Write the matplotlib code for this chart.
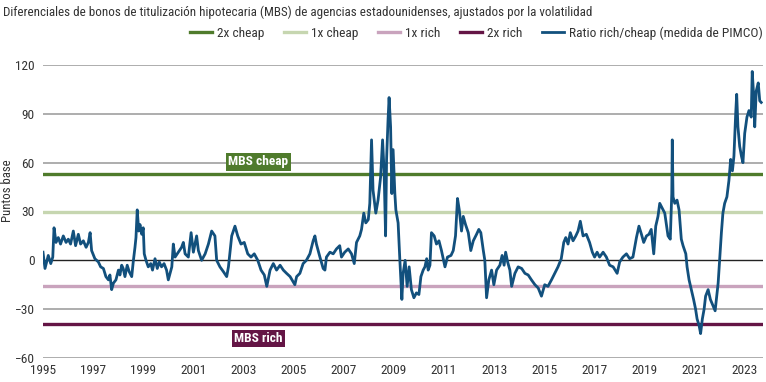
import matplotlib
matplotlib.use('Agg')
import matplotlib.pyplot as plt
from matplotlib import font_manager as fm

# pick a condensed face like the one in the original
installed = {f.name for f in fm.fontManager.ttflist}
for fam in ['Roboto Condensed', 'Barlow Semi Condensed', 'Fira Sans Condensed', 'Asap Condensed']:
    if fam in installed:
        break
else:
    fam = 'DejaVu Sans'
plt.rcParams['font.family'] = [fam, 'DejaVu Sans']

# Ratio rich/cheap (decimal year, basis points)
years = [
    1995.00, 1995.08, 1995.21, 1995.31, 1995.39, 1995.44, 1995.52, 1995.61, 1995.70, 1995.81,
    1995.92, 1996.01, 1996.10, 1996.21, 1996.30, 1996.41, 1996.50, 1996.61, 1996.72, 1996.81,
    1996.88, 1996.94, 1997.07, 1997.21, 1997.30, 1997.41, 1997.51, 1997.61, 1997.67, 1997.74,
    1997.81, 1997.91, 1998.01, 1998.07, 1998.14, 1998.20, 1998.27, 1998.36, 1998.44, 1998.54,
    1998.60, 1998.67, 1998.71, 1998.76, 1998.82, 1998.87, 1998.94, 1999.00, 1999.04, 1999.11,
    1999.20, 1999.30, 1999.37, 1999.47, 1999.56, 1999.64, 1999.73, 1999.83, 1999.93, 2000.00,
    2000.14, 2000.20, 2000.27, 2000.40, 2000.53, 2000.60, 2000.67, 2000.80, 2000.91, 2001.00,
    2001.13, 2001.20, 2001.33, 2001.47, 2001.60, 2001.73, 2001.86, 2001.93, 2002.06, 2002.20,
    2002.33, 2002.40, 2002.53, 2002.66, 2002.77, 2002.90, 2003.03, 2003.17, 2003.30, 2003.43,
    2003.57, 2003.70, 2003.83, 2003.93, 2004.06, 2004.19, 2004.32, 2004.46, 2004.59, 2004.72,
    2004.86, 2005.05, 2005.12, 2005.25, 2005.38, 2005.51, 2005.65, 2005.78, 2005.85, 2005.91,
    2006.05, 2006.18, 2006.25, 2006.31, 2006.45, 2006.58, 2006.71, 2006.84, 2006.91, 2007.04,
    2007.18, 2007.31, 2007.42, 2007.51, 2007.64, 2007.71, 2007.80, 2007.88, 2007.98, 2008.04,
    2008.11, 2008.17, 2008.28, 2008.37, 2008.47, 2008.55, 2008.61, 2008.67, 2008.71, 2008.77,
    2008.81, 2008.87, 2008.92, 2008.97, 2009.04, 2009.08, 2009.17, 2009.24, 2009.32, 2009.37,
    2009.45, 2009.53, 2009.61, 2009.70, 2009.80, 2009.90, 2010.00, 2010.08, 2010.17, 2010.24,
    2010.31, 2010.37, 2010.44, 2010.50, 2010.61, 2010.70, 2010.80, 2010.90, 2011.04, 2011.14,
    2011.28, 2011.37, 2011.46, 2011.54, 2011.61, 2011.70, 2011.77, 2011.86, 2011.97, 2012.07,
    2012.17, 2012.30, 2012.39, 2012.47, 2012.57, 2012.63, 2012.70, 2012.79, 2012.90, 2012.99,
    2013.10, 2013.23, 2013.32, 2013.40, 2013.46, 2013.54, 2013.63, 2013.70, 2013.83, 2013.96,
    2014.10, 2014.23, 2014.36, 2014.49, 2014.63, 2014.76, 2014.89, 2015.02, 2015.15, 2015.29,
    2015.42, 2015.55, 2015.68, 2015.78, 2015.86, 2015.95, 2016.04, 2016.15, 2016.26, 2016.35,
    2016.44, 2016.55, 2016.68, 2016.81, 2016.92, 2017.01, 2017.11, 2017.21, 2017.35, 2017.48,
    2017.61, 2017.75, 2017.91, 2018.01, 2018.14, 2018.28, 2018.41, 2018.54, 2018.68, 2018.78,
    2018.88, 2018.97, 2019.08, 2019.18, 2019.27, 2019.37, 2019.45, 2019.54, 2019.61, 2019.71,
    2019.81, 2019.94, 2020.03, 2020.09, 2020.11, 2020.14, 2020.21, 2020.30, 2020.38, 2020.47,
    2020.54, 2020.65, 2020.70, 2020.78, 2020.87, 2020.96, 2021.04, 2021.10, 2021.18, 2021.24,
    2021.31, 2021.38, 2021.44, 2021.54, 2021.63, 2021.74, 2021.82, 2021.87, 2021.94, 2022.00,
    2022.07, 2022.13, 2022.20, 2022.29, 2022.37, 2022.44, 2022.51, 2022.57, 2022.64, 2022.68,
    2022.73, 2022.80, 2022.87, 2022.93, 2023.00, 2023.09, 2023.17, 2023.26, 2023.30, 2023.37,
    2023.40, 2023.46, 2023.54, 2023.60, 2023.66,
]
ratio = [
    5, -5, 3, -2, 2, 20, 11, 14, 10, 15,
    11, 13, 10, 18, 9, 16, 10, 12, 8, 11,
    17, 6, 1, -1, -4, -5, -10, -12, -9, -18,
    -14, -12, -6, -9, -3, -5, -10, -3, -7, -10,
    -1, 8, 14, 31, 18, 22, 16, 20, 4, 0,
    -4, -2, -6, 1, -5, -1, -4, -2, -6, -12,
    -4, 10, 2, 5, 8, 11, 4, 2, 17, 5,
    15, 6, 0, 4, 10, 18, 15, 0, -4, -7,
    -10, -4, 15, 21, 15, 10, 11, 4, 2, 4,
    0, -6, -9, -16, -6, -2, -6, -3, -6, -8,
    -10, -15, -10, -8, -2, 0, 4, 12, 15, 10,
    2, -5, -6, 2, 5, 4, 7, 9, 2, 5,
    7, 4, -2, 11, 15, 19, 29, 23, 25, 35,
    74, 43, 29, 37, 51, 74, 55, 15, 62, 87,
    100, 82, 41, 68, 41, 31, 23, 0, -24, -8,
    0, -16, -4, -18, -23, -20, -21, -10, -6, -4,
    1, -6, -3, 17, 15, 10, 12, 6, -4, 2,
    3, 6, 15, 38, 31, 18, 27, 22, 17, 6,
    12, 16, 19, 17, 6, 0, -23, -12, -6, -15,
    -6, -3, 3, -3, 5, -1, -6, -16, -8, -4,
    -5, -8, -9, -12, -15, -17, -22, -15, -16, -12,
    -8, -4, 1, 11, 14, 10, 17, 12, 15, 18,
    24, 15, 16, 11, 5, 2, 5, 2, 5, 2,
    -3, -4, -8, -1, 2, 4, 1, 2, 14, 21,
    16, 11, 15, 16, 19, 4, 21, 27, 35, 32,
    29, 15, 13, 41, 74, 39, 35, 37, 31, 13,
    9, 4, -4, -12, -18, -24, -30, -36, -40, -45,
    -36, -30, -22, -18, -24, -28, -31, -24, -14, 0,
    17, 29, 35, 39, 49, 62, 55, 64, 90, 102,
    82, 70, 64, 60, 78, 88, 92, 88, 116, 98,
    82, 104, 109, 98, 97,
]

# threshold levels (bp)
levels = [53, 30, -16, -39]
level_names = ['2x cheap', '1x cheap', '1x rich', '2x rich']
level_colors = ['#4f7b2c', '#c6d6b0', '#c9a3bd', '#641545']

yticks = [-60, -30, 0, 30, 60, 90, 120]
xticks = list(range(1995, 2024, 2))

title = 'Diferenciales de bonos de titulización hipotecaria (MBS) de agencias estadounidenses, ajustados por la volatilidad'
series_name = 'Ratio rich/cheap (medida de PIMCO)'

txt = '#333333'
blue = '#12507d'

fig = plt.figure(figsize=(7.66, 3.82), dpi=100)
ax = fig.add_axes([43 / 766, 1 - 358 / 382, 720 / 766, 293 / 382])

for y in yticks:
    if y == 0:
        ax.axhline(y, color='#222222', lw=1.0, zorder=2)
    else:
        ax.axhline(y, color='#a0a0a0', lw=1.2, zorder=1)

handles = []
for lv, name, col in zip(levels, level_names, level_colors):
    h = ax.axhline(lv, color=col, lw=2.4, zorder=3, label=name)
    handles.append(h)

line, = ax.plot(years, ratio, color=blue, lw=2.0, zorder=4, label=series_name)
handles.append(line)

ax.text(2003.6, 60.5, 'MBS cheap', color='white', fontsize=9.6, fontweight='bold',
        ha='center', va='center', zorder=5,
        bbox=dict(boxstyle='square,pad=0.18', fc=level_colors[0], ec='none'))
ax.text(2003.6, -48, 'MBS rich', color='white', fontsize=9.6, fontweight='bold',
        ha='center', va='center', zorder=5,
        bbox=dict(boxstyle='square,pad=0.18', fc=level_colors[3], ec='none'))

ax.set_xlim(1995, 2023.73)
ax.set_ylim(-60, 120)
ax.set_yticks(yticks)
ax.set_xticks(xticks)
ax.set_xticklabels([str(x) for x in xticks])
ax.tick_params(length=0, labelsize=9.6, colors=txt, pad=6)
ax.tick_params(axis='x', pad=4)
for s in ax.spines.values():
    s.set_visible(False)

fig.text(8 / 766, 1 - 191 / 382, 'Puntos base', rotation=90, ha='center', va='center',
         fontsize=9.2, color=txt)
fig.text(3 / 766, 1 - 12 / 382, title, ha='left', va='center', fontsize=9.4, color=txt)

fig.legend(handles=handles, loc='center right', bbox_to_anchor=(763 / 766, 1 - 33 / 382),
           ncol=5, frameon=False, fontsize=9.6, handlelength=1.6, handletextpad=0.4,
           columnspacing=1.5, borderpad=0, borderaxespad=0, labelcolor=txt)

fig.savefig('out.png', dpi=100)
